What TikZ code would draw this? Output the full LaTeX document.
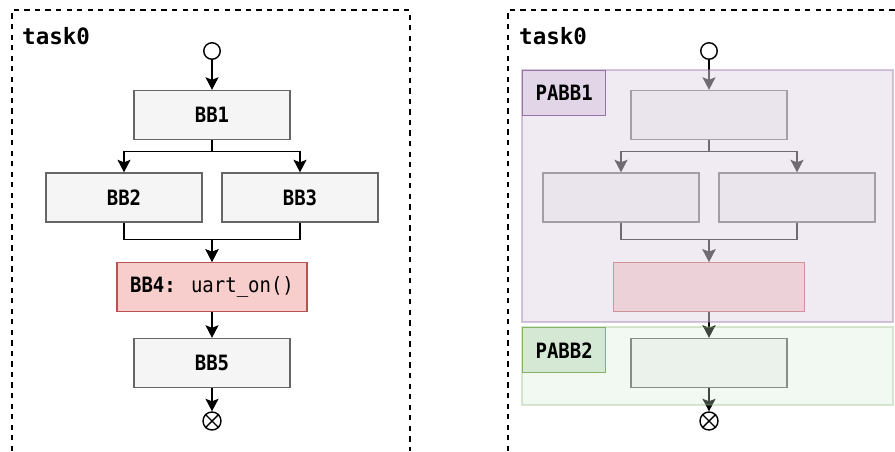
\documentclass[tikz,border=0pt]{standalone}
\usepackage{fontspec}
\setmonofont{DejaVu Sans Mono}
\newfontfamily\monoserre[FakeStretch=0.9]{DejaVu Sans Mono}
\usepackage{xcolor}
\definecolor{grisbloc}{HTML}{F5F5F5}
\definecolor{grisbord}{HTML}{666666}
\definecolor{rougebloc}{HTML}{F8CECC}
\definecolor{rougebord}{HTML}{B85450}
\definecolor{mauve}{HTML}{E1D5E7}
\definecolor{mauvefonce}{HTML}{9673A6}
\definecolor{vert}{HTML}{D5E8D4}
\definecolor{vertfonce}{HTML}{82B366}
\usepackage{tikz}
\usetikzlibrary{arrows.meta}

\begin{document}
\begin{tikzpicture}[font=\monoserre\bfseries\fontsize{12}{14}\selectfont,
  bloc/.style={draw=grisbord,fill=grisbloc,line width=0.8pt,
    minimum width=3.12cm,minimum height=0.98cm,inner sep=0pt},
  fleche/.style={-{Stealth[length=2.5mm,width=2.6mm,inset=0.5mm]},line width=0.8pt},
  rond/.style={draw,circle,fill=white,inner sep=0pt,line width=0.8pt},
  cadre/.style={dashed,line width=0.7pt},
  titre/.style={anchor=west,font=\ttfamily\bfseries\fontsize{12.8}{14}\selectfont}]
\useasboundingbox (0,0) rectangle (17.9,9.02);
% tâche de gauche : graphe des blocs de base
\draw[cadre] (0.24,0) -- (0.24,8.82) -- (8.2,8.82) -- (8.2,0);
\node[titre] (tachea) at (0.32,8.3) {task0};
\node[rond,minimum size=0.33cm] (debuta) at (4.24,8.0) {};
\node[bloc] (bb1a) at (4.24,6.72) {BB1};
\node[bloc] (bb2a) at (2.48,5.07) {BB2};
\node[bloc] (bb3a) at (6.0,5.07) {BB3};
\node[bloc,draw=rougebord,fill=rougebloc,minimum width=3.8cm] (bb4a) at (4.24,3.28)
  {BB4: {\mdseries uart\_on()}};
\node[bloc] (bb5a) at (4.24,1.76) {BB5};
\node[rond,minimum size=0.36cm] (fina) at (4.24,0.6) {};
\draw[line width=0.8pt] (fina.north west) -- (fina.south east) (fina.north east) -- (fina.south west);
\draw[fleche] (debuta) -- (bb1a);
\draw[fleche] (bb1a.south) -- ++(0,-0.23) -| (bb2a.north);
\draw[fleche] (bb1a.south) -- ++(0,-0.23) -| (bb3a.north);
\draw[fleche] (bb2a.south) -- ++(0,-0.34) -| (bb4a.north);
\draw[fleche] (bb3a.south) -- ++(0,-0.34) -| (bb4a.north);
\draw[fleche] (bb4a) -- (bb5a);
\draw[fleche] (bb5a) -- (fina);
% tâche de droite : même graphe découpé en PABB
\draw[cadre] (10.16,0) -- (10.16,8.82) -- (17.95,8.82);
\node[titre] (tacheb) at (10.26,8.3) {task0};
\node[rond,minimum size=0.33cm] (debutb) at (14.18,8.0) {};
\node[bloc] (bb1b) at (14.18,6.72) {};
\node[bloc] (bb2b) at (12.42,5.07) {};
\node[bloc] (bb3b) at (15.94,5.07) {};
\node[bloc,draw=rougebord,fill=rougebloc,minimum width=3.82cm] (bb4b) at (14.18,3.28) {};
\node[bloc] (bb5b) at (14.18,1.76) {};
\node[rond,minimum size=0.36cm] (finb) at (14.18,0.6) {};
\draw[line width=0.8pt] (finb.north west) -- (finb.south east) (finb.north east) -- (finb.south west);
\draw[fleche] (debutb) -- (bb1b);
\draw[fleche] (bb1b.south) -- ++(0,-0.23) -| (bb2b.north);
\draw[fleche] (bb1b.south) -- ++(0,-0.23) -| (bb3b.north);
\draw[fleche] (bb2b.south) -- ++(0,-0.34) -| (bb4b.north);
\draw[fleche] (bb3b.south) -- ++(0,-0.34) -| (bb4b.north);
\draw[fleche] (bb4b) -- (bb5b);
\draw[fleche] (bb5b) -- (finb);
% zones PABB par-dessus, semi-transparentes
\draw[fill=mauve,fill opacity=0.5,draw=mauvefonce,draw opacity=0.4,line width=0.8pt]
  (10.44,7.62) rectangle (17.86,2.58);
\draw[fill=vert,fill opacity=0.3,draw=vertfonce,draw opacity=0.3,line width=0.8pt]
  (10.44,2.48) rectangle (17.86,0.92);
\node[draw=mauvefonce,fill=mauve,line width=0.8pt,anchor=north west,
  minimum width=1.66cm,minimum height=0.9cm,inner sep=0pt] (pabb1) at (10.44,7.62) {PABB1};
\node[draw=vertfonce,fill=vert,line width=0.8pt,anchor=north west,
  minimum width=1.66cm,minimum height=0.9cm,inner sep=0pt] (pabb2) at (10.44,2.48) {PABB2};
\end{tikzpicture}
\end{document}
